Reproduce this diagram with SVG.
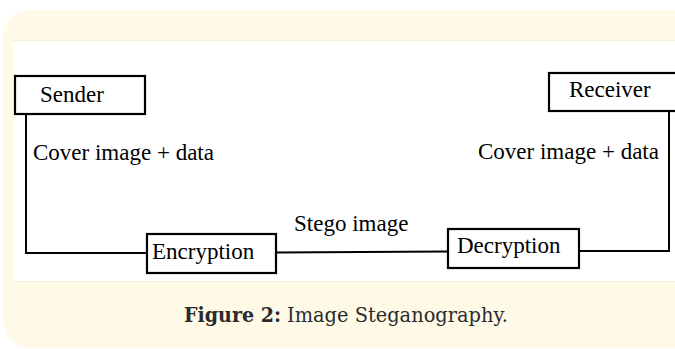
<svg xmlns="http://www.w3.org/2000/svg" width="675" height="349" viewBox="0 0 675 349">
  <style>
    .box { fill: #ffffff; stroke: #000000; stroke-width: 2.2; }
    .wire { fill: none; stroke: #000000; stroke-width: 2; }
    .lbl { font-family: "Liberation Serif", "Times New Roman", serif; font-size: 23px; fill: #000000; }
    .cap { font-family: "DejaVu Serif", "Liberation Serif", serif; font-size: 19.5px; fill: #2b2b2b; }
  </style>

  <!-- figure panel -->
  <rect x="0" y="0" width="675" height="349" fill="#ffffff"/>
  <rect x="3" y="10" width="700" height="338" rx="27" ry="27" fill="#fffae8"/>
  <rect x="13" y="40" width="662" height="242" fill="#ffffff"/>
  <line x1="13" y1="40.5" x2="675" y2="40.5" stroke="#f4efdc" stroke-width="1"/>
  <line x1="13" y1="281.5" x2="675" y2="281.5" stroke="#f4efdc" stroke-width="1"/>

  <!-- connectors -->
  <g id="connectors">
    <polyline class="wire" points="26,114 26,253 147,253"/>
    <line class="wire" x1="276" y1="252.5" x2="448" y2="251.5"/>
    <polyline class="wire" points="579,251 669,251 669,111"/>
    <text class="lbl" x="33" y="160">Cover image + data</text>
    <text class="lbl" x="294" y="231">Stego image</text>
    <text class="lbl" x="478" y="159">Cover image + data</text>
  </g>

  <g id="sender">
    <rect class="box" x="15" y="76" width="130" height="38"/>
    <text class="lbl" x="40" y="102">Sender</text>
  </g>

  <g id="encryption">
    <rect class="box" x="147" y="234" width="129" height="39"/>
    <text class="lbl" x="152" y="259">Encryption</text>
  </g>

  <g id="decryption">
    <rect class="box" x="448" y="229" width="131" height="39"/>
    <text class="lbl" x="457" y="253">Decryption</text>
  </g>

  <g id="receiver">
    <rect class="box" x="549" y="73" width="140" height="38"/>
    <text class="lbl" x="569" y="97">Receiver</text>
  </g>

  <!-- caption -->
  <text class="cap" x="184" y="322" font-weight="bold" textLength="97" lengthAdjust="spacingAndGlyphs">Figure 2:</text>
  <text class="cap" x="287" y="322" textLength="221" lengthAdjust="spacingAndGlyphs">Image Steganography.</text>
</svg>
